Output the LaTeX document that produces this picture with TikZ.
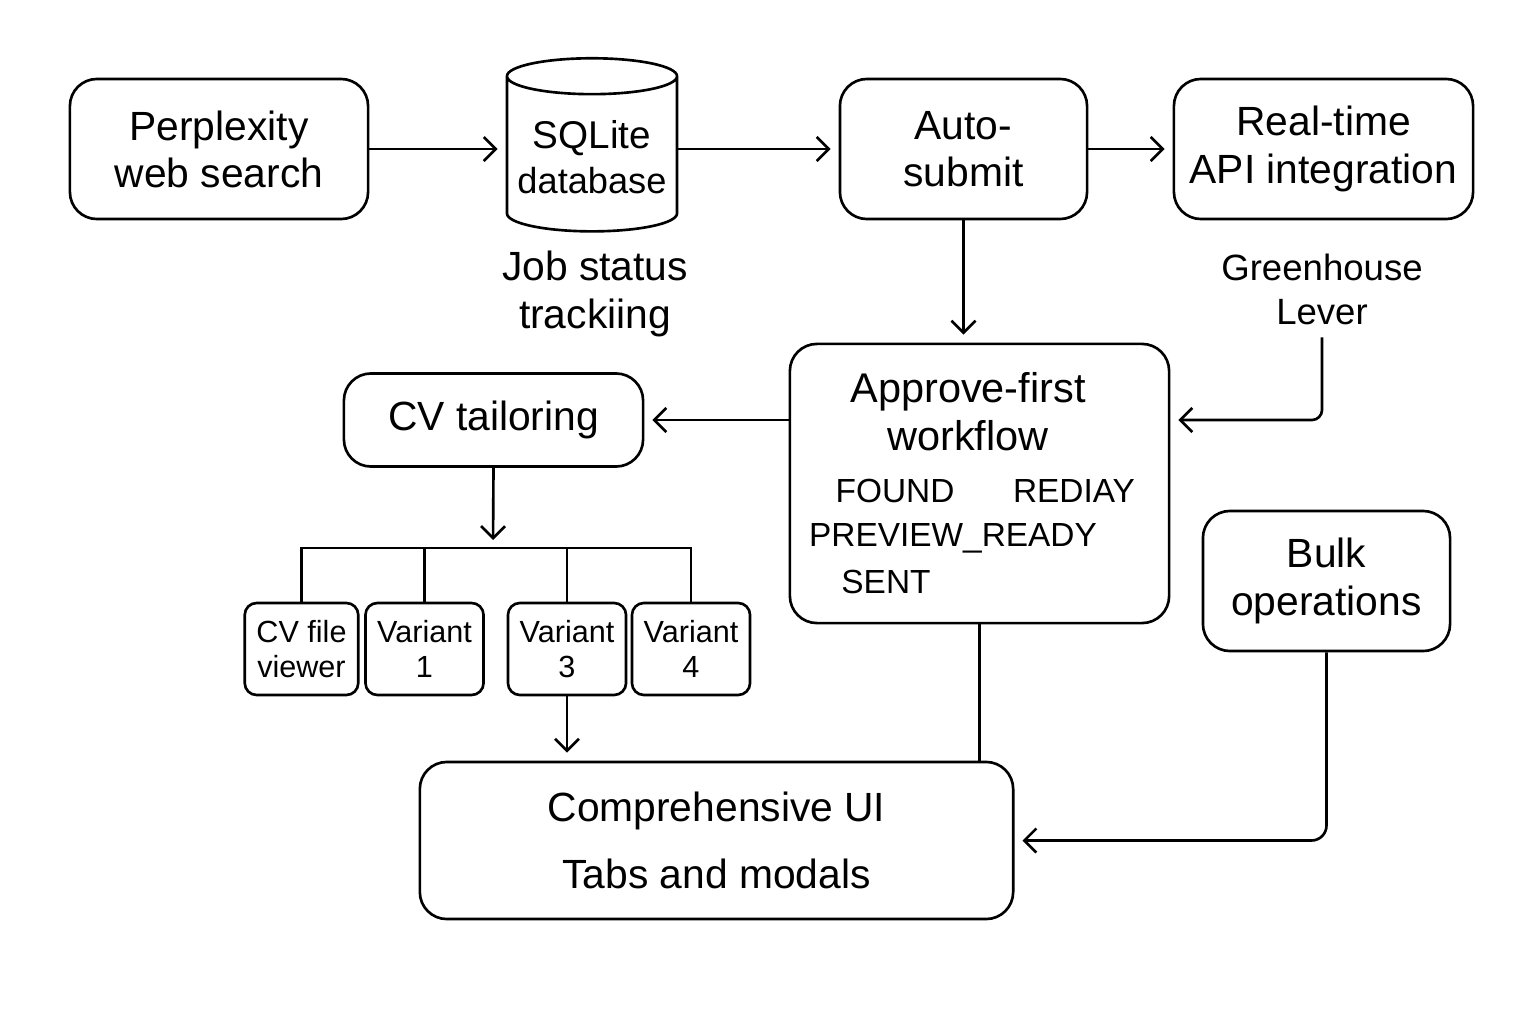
\documentclass[tikz,border=0pt]{standalone}
\usepackage{fontspec}
\setmainfont{Liberation Sans}
\usetikzlibrary{shapes.geometric,arrows.meta}

\tikzset{
  box/.style={draw, rounded corners=0.27cm, align=center, font=\fontsize{11.6}{13.4}\selectfont},
  cvbox/.style={draw, rounded corners=0.12cm, align=center, minimum height=0.92cm, font=\fontsize{8.7}{10}\selectfont},
  db/.style={draw, cylinder, shape border rotate=90, aspect=0.23, inner xsep=1pt, minimum width=1.70cm, minimum height=1.73cm, align=center, font=\fontsize{11}{12.8}\selectfont},
  lbl/.style={align=center, font=\fontsize{11.6}{13.4}\selectfont},
  status/.style={font=\fontsize{9.5}{11}\selectfont},
  arr/.style={-{Straight Barb[length=1.2mm,width=2.4mm]}, shorten >=0.8mm}
}

\begin{document}
\begin{tikzpicture}[x=0.01cm, y=-0.01cm, line width=0.75pt]
  \useasboundingbox (0,0) rectangle (1536,1024);

  % Top row
  \node[box, minimum width=2.98cm, minimum height=1.40cm] (search) at (219,149) {Perplexity\\web search};
  \node[db] (db) at (592,157) {SQLite\\{\fontsize{10.3}{12.8}\selectfont database}};
  \node[box, minimum width=2.47cm, minimum height=1.40cm] (auto) at (963.5,149) {Auto-\\submit};
  \node[box, minimum width=2.99cm, minimum height=1.40cm] (api) at (1323.5,149) {Real-time\\API integration};

  \node[lbl] (jobs) at (595,294) {Job status\\trackiing};
  \node[lbl, font=\fontsize{10.4}{12.5}\selectfont] (gh) at (1322,289) {Greenhouse\\Lever};

  % Workflow
  \node[box, minimum width=3.79cm, minimum height=2.79cm] (approve) at (979.5,483.5) {};
  \node[lbl, font=\fontsize{11.8}{13.6}\selectfont] (flowtitle) at (968,412) {Approve-first\\workflow};
  \node[status] (found) at (895,491) {FOUND};
  \node[status] (rediay) at (1074,491) {REDIAY};
  \node[status] (preview) at (953,538) {PREVIEW\_READY};
  \node[status] (sent) at (886,582) {SENT};

  \node[box, minimum width=2.99cm, minimum height=0.93cm] (cv) at (493.5,420) {CV tailoring};
  \node[box, minimum width=2.47cm, minimum height=1.40cm] (bulk) at (1326.5,581) {Bulk\\operations};

  % CV variants
  \node[cvbox, minimum width=1.13cm] (viewer) at (301.5,649) {CV file\\viewer};
  \node[cvbox, minimum width=1.13cm] (var1) at (424.5,649) {Variant\\1};
  \node[cvbox, minimum width=1.12cm] (var3) at (567,649) {Variant\\3};
  \node[cvbox, minimum width=1.10cm] (var4) at (691,649) {Variant\\4};
  \coordinate (bus) at (493,548);

  % Bottom
  \node[box, minimum width=5.93cm, minimum height=1.57cm] (ui) at (716.5,840.5) {Comprehensive UI\\[2mm]Tabs and modals};

  % Connectors
  \draw[arr] (search.east) -- (search.east -| db.west);
  \draw[arr] (db.east |- auto.west) -- (auto.west);
  \draw[arr] (auto.east) -- (api.west);
  \draw[arr] (auto.south) -- (auto.south |- approve.north);
  \draw[arr, rounded corners=0.1cm] (gh.south) |- (approve.east |- cv.east);
  \draw[arr] (approve.west |- cv.east) -- (cv.east);
  \draw[arr] (cv.south) -- (bus);
  \draw (viewer.north) |- (bus) -| (var4.north);
  \draw (var1.north) -- (var1.north |- bus);
  \draw (var3.north) -- (var3.north |- bus);
  \draw[arr] (var3.south) -- (var3.south |- ui.north);
  \draw (approve.south) -- (approve.south |- ui.north);
  \draw[arr, rounded corners=0.15cm] (bulk.south) |- (ui.east);
\end{tikzpicture}
\end{document}
